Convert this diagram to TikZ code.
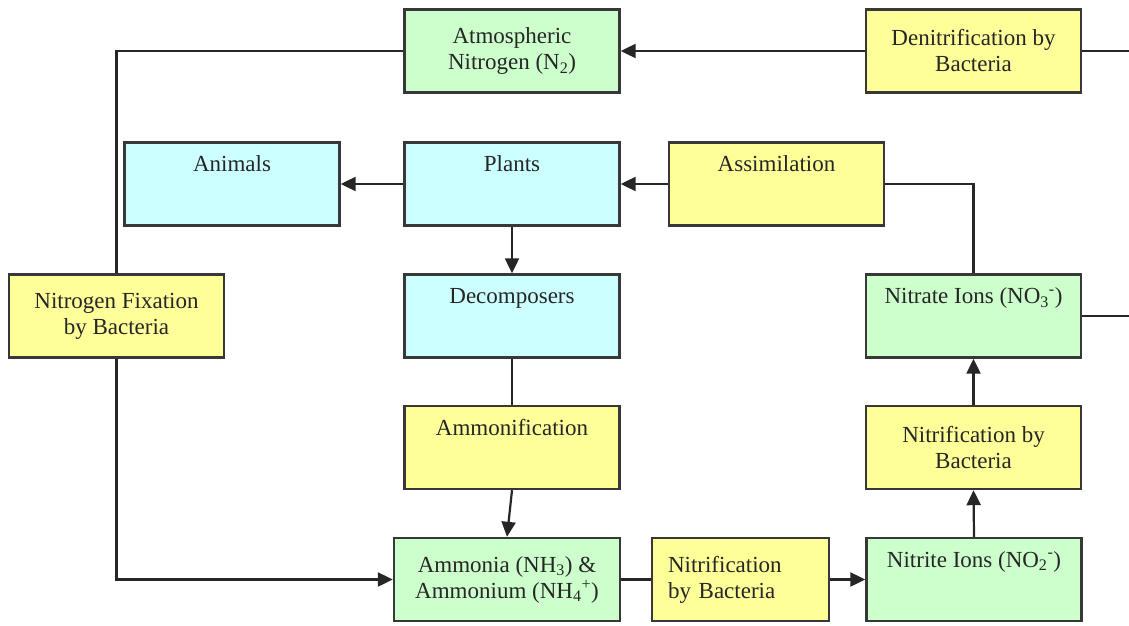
\documentclass[tikz,border=0pt]{standalone}
\usepackage{fontspec}
\setmainfont{Liberation Serif}
\usetikzlibrary{arrows.meta}
\definecolor{gfill}{HTML}{CCFFCC}
\definecolor{yfill}{HTML}{FFFF99}
\definecolor{cfill}{HTML}{CCFFFF}
\definecolor{bord}{HTML}{383838}
\begin{document}
\begin{tikzpicture}[x=1pt,y=-1pt,
  font=\fontsize{23}{26}\selectfont,
  box/.style={draw=bord, line width=2.4pt, minimum height=83pt, minimum width=215pt, inner sep=0pt, align=center, text=black!85},
  topbox/.style={box, text height=29pt, text depth=54pt},
  gbox/.style={fill=gfill},
  ybox/.style={fill=yfill},
  cbox/.style={fill=cfill},
  conn/.style={line width=2.2pt, black!85},
  arr/.style={conn, -{Triangle[length=15pt,width=14pt]}}]
\useasboundingbox (0,0) rectangle (1129,626);
% nodes
\node[box,gbox] (atm) at (512,51) {Atmospheric\\Nitrogen (N\textsubscript{2})};
\node[box,ybox] (denit) at (973.5,51) {Denitrification by\\Bacteria};
\node[topbox,cbox] (animals) at (232,184) {Animals};
\node[topbox,cbox] (plants) at (512,184) {Plants};
\node[topbox,ybox] (assim) at (776.5,184) {Assimilation};
\node[box,ybox] (fix) at (116.5,316) {Nitrogen Fixation\\by Bacteria};
\node[topbox,cbox] (decomp) at (512,316) {Decomposers};
\node[topbox,gbox] (nitrate) at (973.5,316) {Nitrate Ions (NO\textsubscript{3}\textsuperscript{-})};
\node[topbox,ybox] (ammonif) at (512,447.5) {Ammonification};
\node[box,ybox] (nitrifA) at (973.5,447.5) {Nitrification by\\Bacteria};
\node[box,gbox,minimum width=226pt] (ammonia) at (507,579.5) {Ammonia (NH\textsubscript{3}) \&\\Ammonium (NH\textsubscript{4}\textsuperscript{+})};
\node[box,ybox,minimum width=177pt,text width=145pt,inner xsep=16pt,align=left] (nitrifB) at (740.5,579.5) {Nitrification\\by Bacteria};
\node[topbox,gbox] (nitrite) at (974,579.5) {Nitrite Ions (NO\textsubscript{2}\textsuperscript{-})};
\coordinate (edgeA) at (1129,51);
\coordinate (edgeB) at (1129,316);
% connectors
\draw[conn] (atm.west) -| (fix.north);
\draw[arr] (denit.west) -- (atm.east);
\draw[conn] (denit.east) -- (edgeA);
\draw[arr] (plants.west) -- (animals.east);
\draw[arr] (assim.west) -- (plants.east);
\draw[conn] (nitrate.north) |- (assim.east);
\draw[conn] (nitrate.east) -- (edgeB);
\draw[arr] (plants.south) -- (decomp.north);
\draw[conn] (decomp.south) -- (ammonif.north);
\draw[arr] (ammonif.south) -- (ammonia.north);
\draw[arr] (fix.south) |- (ammonia.west);
\draw[conn] (ammonia.east) -- (nitrifB.west);
\draw[arr] (nitrifB.east) -- (nitrite.west);
\draw[arr] (nitrite.north) -- (nitrifA.south);
\draw[arr] (nitrifA.north) -- (nitrate.south);
\end{tikzpicture}
\end{document}
